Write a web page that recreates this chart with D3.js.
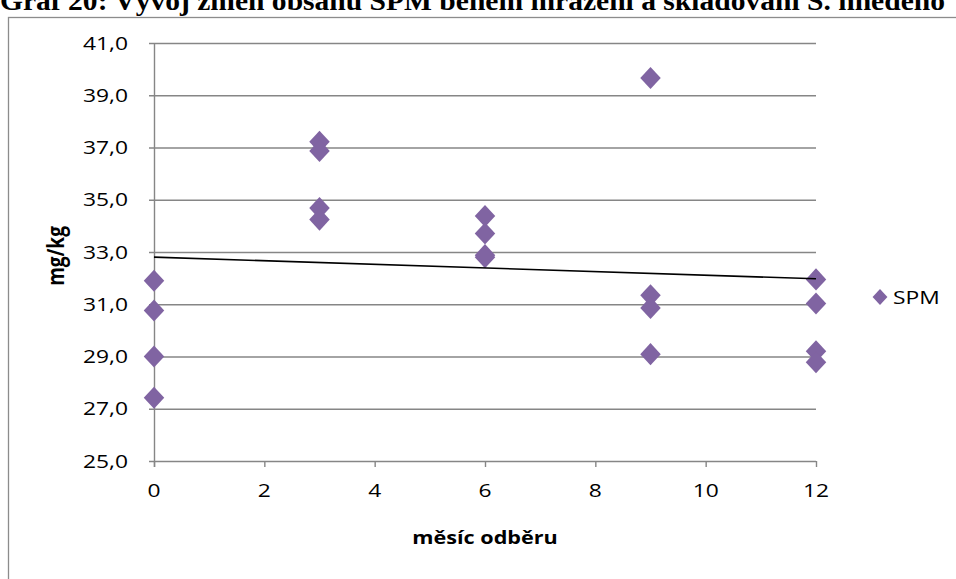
<!DOCTYPE html>
<html>
<head>
<meta charset="utf-8">
<script src="https://cdn.jsdelivr.net/npm/d3@7"></script>
<style>
  html, body { margin: 0; padding: 0; background: #fff; overflow: hidden; }
</style>
</head>
<body>
<div id="chart"></div>
<script>
// months of sampling and measured SPM (mg/kg), four replicates each
const months = [0, 0, 0, 0, 3, 3, 3, 3, 6, 6, 6, 6, 9, 9, 9, 9, 12, 12, 12, 12];
const spm = [31.9, 30.76, 29.0, 27.42, 37.22, 36.87, 34.68, 34.24, 34.38, 33.71, 32.88, 32.8,
             39.66, 31.34, 30.86, 29.09, 31.95, 31.03, 29.2, 28.78];
const yTicks = [25, 27, 29, 31, 33, 35, 37, 39, 41];
const xTicks = [0, 2, 4, 6, 8, 10, 12];
const seriesName = 'SPM';

const width = 956, height = 579;
const stretch = 1.2;   // the original picture is stretched sideways
const labelFont = '"Open Sans", sans-serif';

const svg = d3.select('#chart')
  .append('svg')
  .attr('width', width)
  .attr('height', height);

// title, cut off at the top of the picture
svg.append('text')
  .attr('x', 0)
  .attr('y', 10)
  .attr('textLength', 945)
  .attr('lengthAdjust', 'spacingAndGlyphs')
  .style('font-family', '"Liberation Serif", serif')
  .style('font-weight', 'bold')
  .style('font-size', '28px')
  .text('Graf 20: Vývoj změn obsahu SPM během mrazení a skladování S. hnědého');

svg.append('rect')
  .attr('x', 8.5)
  .attr('y', 17.5)
  .attr('width', 1000)
  .attr('height', 700)
  .attr('fill', 'none')
  .attr('stroke', '#8c8c8c')
  .attr('stroke-width', 1.3);

const x = d3.scaleLinear().domain([0, 12]).range([154, 816]);
const y = d3.scaleLinear().domain([25, 41]).range([461, 43]);

function label(g, px, py, txt, anchor) {
  return g.append('text')
    .attr('transform', `translate(${px},${py}) scale(${stretch},1)`)
    .attr('text-anchor', anchor)
    .attr('dy', '0.35em')
    .style('font-family', labelFont)
    .style('font-size', '19px')
    .attr('fill', '#000')
    .text(txt);
}

// gridlines with small ticks left of the axis
svg.append('g')
  .selectAll('line')
  .data(yTicks)
  .join('line')
  .attr('x1', x(0) - 5)
  .attr('x2', x(12))
  .attr('y1', d => y(d) + 0.5)
  .attr('y2', d => y(d) + 0.5)
  .attr('stroke', '#868686')
  .attr('stroke-width', 1.4);

// axes
svg.append('line')
  .attr('x1', x(0) + 0.5).attr('x2', x(0) + 0.5)
  .attr('y1', y(41)).attr('y2', y(25) + 6)
  .attr('stroke', '#868686').attr('stroke-width', 1.4);

svg.append('g')
  .selectAll('line')
  .data(xTicks)
  .join('line')
  .attr('x1', d => x(d) + 0.5)
  .attr('x2', d => x(d) + 0.5)
  .attr('y1', y(25))
  .attr('y2', y(25) + 6)
  .attr('stroke', '#868686')
  .attr('stroke-width', 1.4);

const fmt = d3.format('.1f');
const yl = svg.append('g');
yTicks.forEach(d => label(yl, 128, y(d), fmt(d).replace('.', ','), 'end'));
const xl = svg.append('g');
xTicks.forEach(d => label(xl, x(d), 490, String(d), 'middle'));

// axis titles
svg.append('text')
  .attr('transform', `translate(56,256) rotate(-90) scale(1,${stretch})`)
  .attr('text-anchor', 'middle')
  .attr('dy', '0.35em')
  .style('font-family', labelFont)
  .style('font-weight', 'bold')
  .style('font-size', '19px')
  .text('mg/kg');

svg.append('text')
  .attr('transform', `translate(485,538) scale(${stretch},1)`)
  .attr('text-anchor', 'middle')
  .attr('dy', '0.35em')
  .style('font-family', labelFont)
  .style('font-weight', 'bold')
  .style('font-size', '18px')
  .text('měsíc odběru');

// linear trend fitted to the points
const reg = d3.range(months.length).map(i => [months[i], spm[i]]);
const mx = d3.mean(months), my = d3.mean(spm);
const slope = d3.sum(reg, d => (d[0] - mx) * (d[1] - my)) / d3.sum(reg, d => (d[0] - mx) ** 2);
const icpt = my - slope * mx;

const diamond = d3.symbol().type(d3.symbolSquare).size(210);

svg.append('g')
  .selectAll('path')
  .data(reg)
  .join('path')
  .attr('d', diamond)
  .attr('transform', d => `translate(${x(d[0])},${y(d[1])}) scale(1,1.08) rotate(45)`)
  .attr('fill', '#8064a2');

svg.append('line')
  .attr('x1', x(0)).attr('x2', x(12))
  .attr('y1', y(icpt)).attr('y2', y(icpt + slope * 12))
  .attr('stroke', '#000')
  .attr('stroke-width', 1.6);

// legend
svg.append('path')
  .attr('d', d3.symbol().type(d3.symbolSquare).size(110))
  .attr('transform', 'translate(880,297) scale(1,1.08) rotate(45)')
  .attr('fill', '#8064a2');
label(svg, 893, 297, seriesName, 'start');
</script>
</body>
</html>
